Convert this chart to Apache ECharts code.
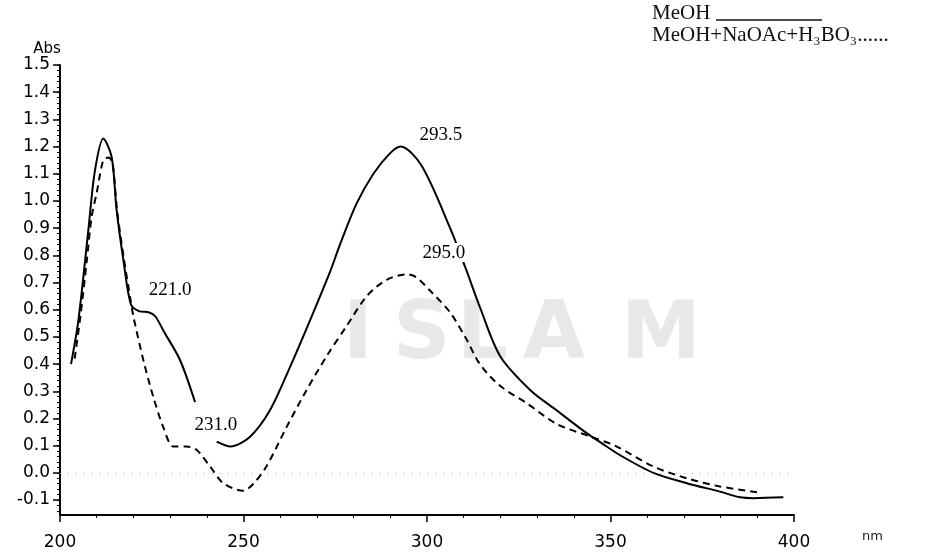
<!DOCTYPE html>
<html>
<head>
<meta charset="utf-8">
<script src="https://cdn.jsdelivr.net/npm/echarts@6/dist/echarts.min.js"></script>
<style>html,body{margin:0;padding:0;background:#fff}#c{width:927px;height:559px}</style>
</head>
<body>
<div id="c"></div>
<script>
// MeOH (solid) — null marks the gap in the trace
const solidX = [203.0, 205.0, 207.7, 209.5, 211.8, 214.1, 215.4, 217.3, 219.3, 221.5, 224.3, 226.0, 228.3, 232.7, 236.8, 239.5, 242.7, 246.5, 251.8, 257.2, 262.7, 268.1, 273.6, 276.3, 280.8, 285.4, 289.9, 292.8, 298.5, 306.3, 310.6, 314.4, 319.9, 328.1, 335.3, 343.5, 347.5, 352.6, 361.7, 370.8, 379.8, 385.3, 389.0, 397.1];
const solidY = [0.40, 0.56, 0.89, 1.11, 1.23, 1.16, 0.97, 0.78, 0.62, 0.595, 0.59, 0.575, 0.52, 0.415, 0.26, null, 0.115, 0.097, 0.133, 0.23, 0.39, 0.56, 0.74, 0.84, 0.99, 1.10, 1.175, 1.20, 1.13, 0.90, 0.75, 0.61, 0.43, 0.305, 0.23, 0.146, 0.11, 0.065, 0.0, -0.038, -0.069, -0.09, -0.093, -0.09];
// MeOH + NaOAc + H3BO3 (dashed)
const dashX = [204.0, 205.6, 207.3, 208.6, 210.0, 211.8, 213.2, 214.3, 215.6, 217.5, 219.3, 220.0, 222.7, 225.4, 228.1, 230.9, 234.5, 237.2, 240.9, 244.5, 249.9, 252.7, 256.3, 261.8, 267.2, 272.7, 278.1, 283.6, 289.0, 294.5, 297.0, 301.2, 306.3, 310.8, 314.4, 319.9, 327.2, 335.3, 344.4, 351.2, 361.7, 370.8, 379.8, 390.3];
const dashY = [0.42, 0.58, 0.78, 0.94, 1.03, 1.15, 1.16, 1.14, 0.96, 0.78, 0.63, 0.575, 0.415, 0.28, 0.17, 0.097, 0.097, 0.085, 0.023, -0.038, -0.066, -0.04, 0.025, 0.17, 0.305, 0.43, 0.54, 0.65, 0.71, 0.73, 0.72, 0.665, 0.59, 0.49, 0.40, 0.32, 0.256, 0.18, 0.134, 0.10, 0.023, -0.02, -0.05, -0.072];
// peak annotations
const annotText = ['221.0', '231.0', '293.5', '295.0'];
const annotX = [230.0, 242.5, 303.8, 304.6];
const annotY = [0.673, 0.176, 1.243, 0.81];
// axis ticks
const yTicks = [-0.1, 0.0, 0.1, 0.2, 0.3, 0.4, 0.5, 0.6, 0.7, 0.8, 0.9, 1.0, 1.1, 1.2, 1.3, 1.4, 1.5];
const yMinorTicks = [];
for (let k = -7; k <= 75; k++) yMinorTicks.push(k / 50);
const legendText = ['MeOH', 'MeOH+NaOAc+H\u2083BO\u2083......'];
const xUnit = 'nm';
const watermark = ['I', 'S', 'L', 'A', 'M'];

function pairs(xs, ys) {
  return xs.map((x, i) => ys[i] === null ? [x, '-'] : [x, ys[i]]);
}

const chart = echarts.init(document.getElementById('c'), null, {renderer: 'canvas'});
const ink = '#000';
const wmX = [343, 393, 457, 523, 621];

chart.setOption({
  animation: false,
  backgroundColor: '#fff',
  grid: {left: 60, right: 133, top: 65, bottom: 44, containLabel: false},
  xAxis: {
    type: 'value', min: 200, max: 400, interval: 50,
    axisLine: {show: true, onZero: false, lineStyle: {color: ink, width: 2}},
    axisTick: {show: true, length: 7, lineStyle: {color: ink, width: 1.5}},
    minorTick: {show: true, splitNumber: 5, length: 3, lineStyle: {color: ink}},
    axisLabel: {fontFamily: 'DejaVu Sans', fontSize: 17, color: ink, margin: 19},
    splitLine: {show: false}
  },
  yAxis: [{
    type: 'value', min: -0.155, max: 1.5,
    name: 'Abs', nameLocation: 'end', nameGap: 8,
    nameTextStyle: {fontFamily: 'DejaVu Sans', fontSize: 15, color: ink, padding: [0, 26, 0, 0]},
    axisLine: {show: true, lineStyle: {color: ink, width: 2}},
    axisTick: {show: true, length: 7, customValues: yTicks, lineStyle: {color: ink, width: 1.5}},
    axisLabel: {customValues: yTicks, fontFamily: 'DejaVu Sans', fontSize: 17, color: ink, margin: 10,
      formatter: v => v.toFixed(1)},
    splitLine: {show: false}
  }, {
    type: 'value', min: -0.155, max: 1.5, position: 'left',
    axisLine: {show: false},
    axisTick: {show: true, length: 3, customValues: yMinorTicks, lineStyle: {color: ink}},
    axisLabel: {show: false},
    splitLine: {show: false}
  }],
  graphic: [
    ...watermark.map((t, i) => ({
      type: 'text', z: -10, left: wmX[i], top: 297,
      style: {text: t, fill: '#e8e8e8', font: 'bold 80px "DejaVu Sans"', textAlign: 'center', textVerticalAlign: 'middle'}
    })),
    {type: 'text', z: 100, left: 652, top: 3,
      style: {text: legendText[0], fill: '#111', font: '21px "Liberation Serif"'}},
    {type: 'line', z: 100, shape: {x1: 716, y1: 20, x2: 822, y2: 20}, style: {stroke: '#111', lineWidth: 1.5}},
    {type: 'text', z: 100, left: 652, top: 25,
      style: {text: legendText[1], fill: '#111', font: '21px "Liberation Serif"'}},
    {type: 'text', z: 100, left: 862, top: 530,
      style: {text: xUnit, fill: '#222', font: '13px "DejaVu Sans"'}}
  ],
  series: [{
    name: 'MeOH', type: 'line', yAxisIndex: 0, data: pairs(solidX, solidY),
    smooth: 0.3, showSymbol: false, connectNulls: false,
    lineStyle: {color: ink, width: 2},
    markLine: {
      silent: true, symbol: 'none', label: {show: false},
      lineStyle: {color: '#aaa', type: [1, 7], width: 1},
      data: [{yAxis: 0}]
    }
  }, {
    name: 'MeOH+NaOAc+H3BO3', type: 'line', yAxisIndex: 0, data: pairs(dashX, dashY),
    smooth: 0.3, showSymbol: false,
    lineStyle: {color: ink, width: 2, type: [7, 5]}
  }, {
    type: 'scatter', yAxisIndex: 0, symbolSize: 0, z: 10,
    itemStyle: {opacity: 1},
    data: annotText.map((t, i) => ({name: t, value: [annotX[i], annotY[i]]})),
    label: {
      show: true, position: 'inside', formatter: p => p.name, opacity: 1,
      fontFamily: 'Liberation Serif', fontSize: 19, color: '#000',
      backgroundColor: '#fff', padding: [0, 1]
    }
  }]
});
</script>
</body>
</html>
